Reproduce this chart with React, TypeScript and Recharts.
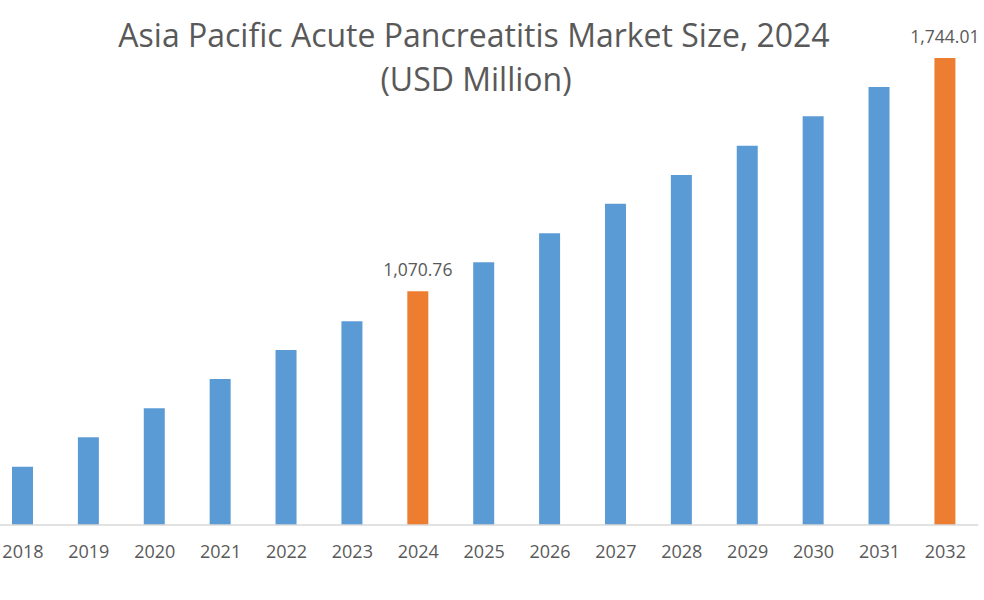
import React from 'react';
import { BarChart, Bar, XAxis, YAxis, Cell, LabelList } from 'recharts';

const years = ['2018', '2019', '2020', '2021', '2022', '2023', '2024', '2025', '2026', '2027', '2028', '2029', '2030', '2031', '2032'];
const values = [564.6, 649.5, 733.2, 817.7, 901.4, 984.2, 1070.76, 1154.5, 1238.2, 1323.6, 1406.4, 1491.0, 1575.8, 1660.4, 1744.01];
const highlightYears = ['2024', '2032'];
const titleLines = ['Asia Pacific Acute Pancreatitis Market Size, 2024', '(USD Million)'];

const BLUE = '#5b9bd5';
const ORANGE = '#ed7d31';
const TEXT = '#595959';
const FONT = '"Open Sans", sans-serif';

const data = years.map((year, i) => ({ year, value: values[i] }));

const fmt = (v: number) =>
  v.toLocaleString('en-US', { minimumFractionDigits: 2, maximumFractionDigits: 2 });

const renderLabel = (props: any) => {
  const { x, y, width, value, index } = props;
  if (!highlightYears.includes(years[index])) return null;
  return (
    <text
      x={x + width / 2}
      y={y - 15}
      textAnchor="middle"
      fill={TEXT}
      fontSize={17.5}
      fontFamily={FONT}
    >
      {fmt(value)}
    </text>
  );
};

export default function App() {
  return (
    <div style={{ position: 'absolute', left: 0, top: 0, width: 984, height: 600, background: '#fff', fontFamily: FONT }}>
      <svg width={984} height={110} style={{ position: 'absolute', left: 0, top: 0 }}>
        <text x={474} y={47} textAnchor="middle" fill={TEXT} fontSize={32} fontFamily={FONT}>
          {titleLines[0]}
        </text>
        <text x={476} y={91} textAnchor="middle" fill={TEXT} fontSize={32} fontFamily={FONT}>
          {titleLines[1]}
        </text>
      </svg>
      <div style={{ position: 'absolute', left: 0, top: 0 }}>
        <BarChart
          width={984}
          height={600}
          data={data}
          margin={{ top: 58, right: 5.7, bottom: 35, left: -10 }}
          barSize={21}
        >
          <XAxis
            dataKey="year"
            height={40}
            axisLine={{ stroke: '#d9d9d9', strokeWidth: 1.5 }}
            tickLine={false}
            tickMargin={14}
            interval={0}
            tick={{ fill: TEXT, fontSize: 18, fontFamily: FONT }}
          />
          <YAxis hide domain={[396.4, 1744.01]} allowDataOverflow />
          <Bar dataKey="value" isAnimationActive={false}>
            {data.map((d) => (
              <Cell key={d.year} fill={highlightYears.includes(d.year) ? ORANGE : BLUE} />
            ))}
            <LabelList dataKey="value" content={renderLabel} />
          </Bar>
        </BarChart>
      </div>
    </div>
  );
}
